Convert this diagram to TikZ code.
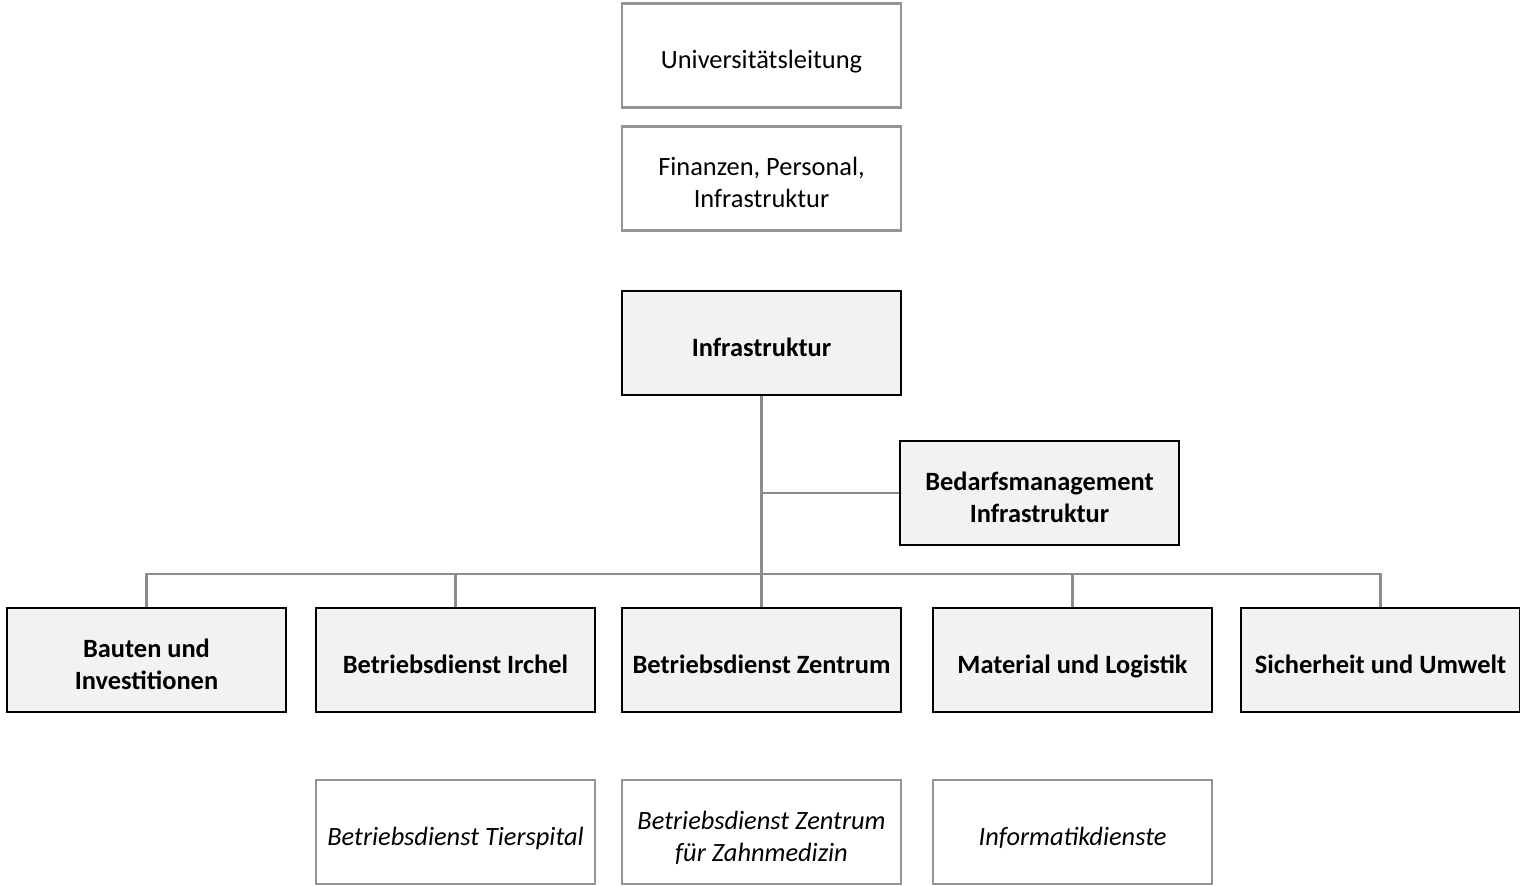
\documentclass[tikz,border=0pt]{standalone}
\usepackage{fontspec}
\setmainfont{Carlito}
\usetikzlibrary{positioning,calc}

\begin{document}
\begin{tikzpicture}[x=0.5pt, y=-0.5pt,
  every node/.style={font=\fontsize{13.2}{16}\selectfont, align=flush center, inner sep=0pt,
    minimum width=139.5pt, minimum height=52pt, text width=134pt,
    execute at begin node={\rule{0pt}{16pt}}, execute at end node={\rule[-3pt]{0pt}{3pt}}},
  topbox/.style={draw=black!42, line width=1.1pt, fill=white},
  unitbox/.style={draw=black, line width=1.1pt, fill=black!5, font=\fontsize{13.2}{16}\selectfont\bfseries},
  extbox/.style={draw=black!42, line width=1.1pt, fill=white, font=\fontsize{13.2}{16}\selectfont\itshape},
  link/.style={draw=black!45, line width=1.2pt}]
\useasboundingbox (0,0) rectangle (1520,885);
\node[topbox] (ul) at (761.5,55.5) {Universitätsleitung};
\node[topbox] (fpi) at (761.5,178.5) {Finanzen, Personal,\\ Infrastruktur};
\node[unitbox] (infra) at (761.5,343) {Infrastruktur};
\node[unitbox] (bedarf) at (1039.5,493) {Bedarfsmanagement\\ Infrastruktur};
\node[unitbox] (bau) at (146.5,660) {Bauten und\\ Investitionen};
\node[unitbox] (irchel) at (455.5,660) {Betriebsdienst Irchel};
\node[unitbox] (zentrum) at (761.5,660) {Betriebsdienst Zentrum};
\node[unitbox] (logistik) at (1072.5,660) {Material und Logistik};
\node[unitbox] (umwelt) at (1380.5,660) {Sicherheit und Umwelt};
\node[extbox] (tierspital) at (455.5,832) {Betriebsdienst Tierspital};
\node[extbox] (zahn) at (761.5,832) {Betriebsdienst Zentrum\\ für Zahnmedizin};
\node[extbox] (info) at (1072.5,832) {Informatikdienste};
\coordinate (bus) at (761.5,574);
\draw[link] (infra.south) -- (zentrum.north);
\draw[link] (infra.south |- bedarf.west) -- (bedarf.west);
\draw[link] (bau.north) -- (bau.north |- bus) -- (umwelt.north |- bus) -- (umwelt.north);
\draw[link] (irchel.north) -- (irchel.north |- bus);
\draw[link] (logistik.north) -- (logistik.north |- bus);
\end{tikzpicture}
\end{document}
